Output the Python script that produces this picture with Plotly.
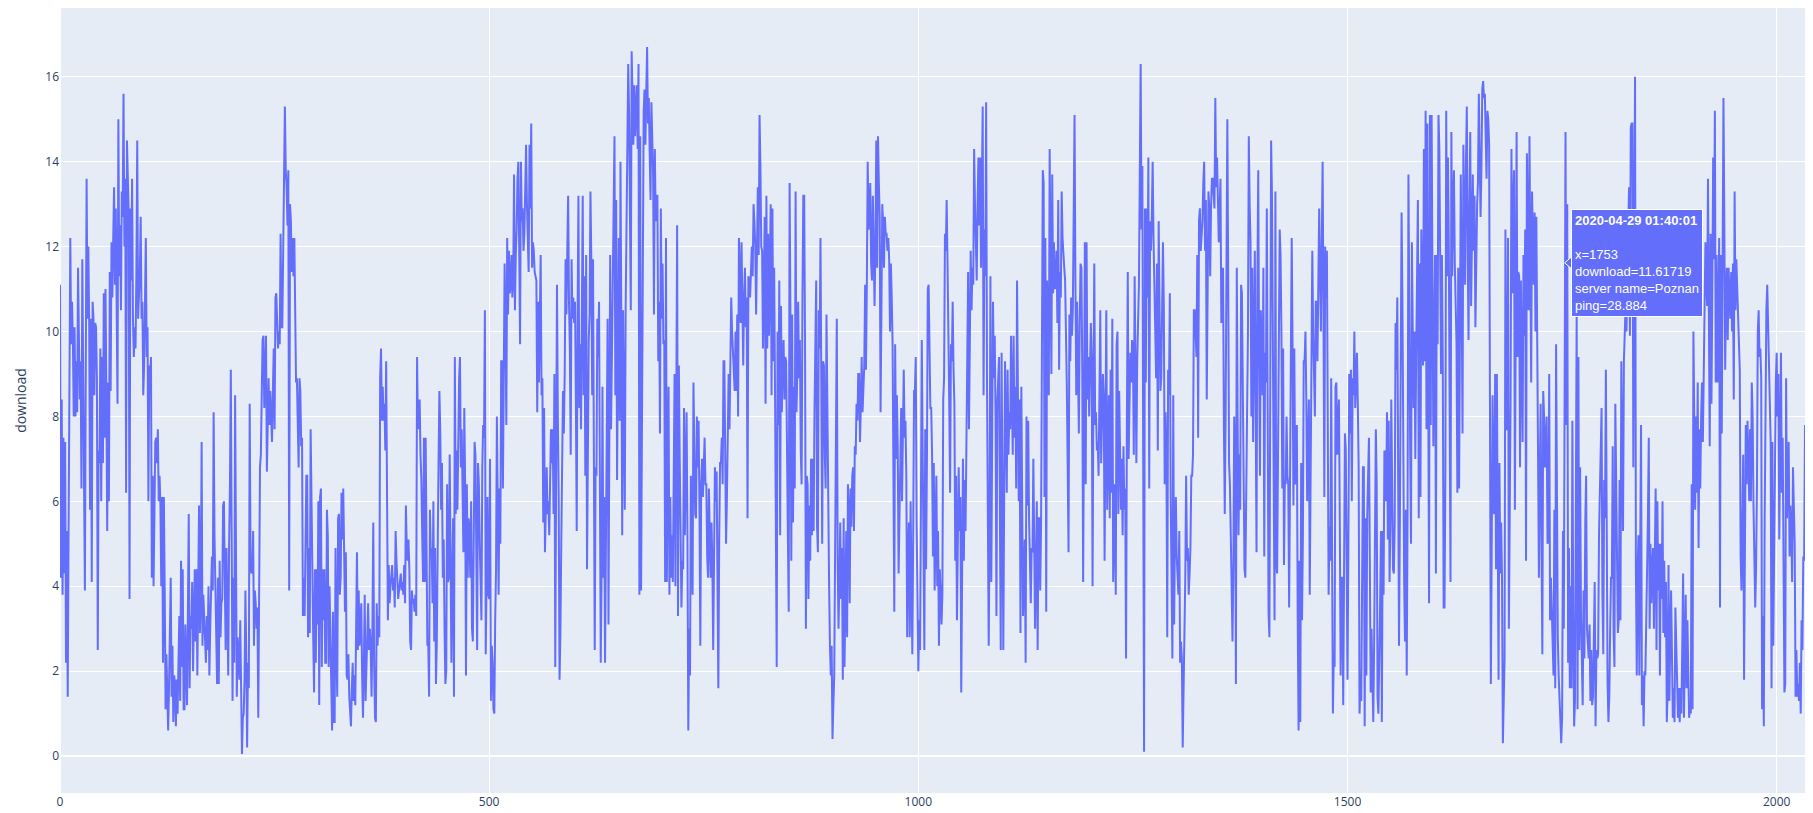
import plotly.graph_objects as go

# download speed per test (index = test number)
part1 = [11.1, 4.2, 8.4, 3.8, 7.5, 4.3, 7.4, 2.2, 5.3, 1.4,
         5.3, 8.4, 12.2, 9.7, 10.7, 9.8, 8.0, 10.1, 8.0, 9.3,
         8.1, 11.5, 9.2, 8.4, 9.3, 6.3, 11.7, 8.2, 6.3, 3.9,
         9.0, 13.6, 10.3, 12.0, 10.2, 5.8, 10.3, 4.1, 10.7, 10.3,
         8.5, 10.2, 10.1, 8.9, 2.5, 7.2, 6.9, 9.6, 6.0, 9.4,
         6.9, 10.9, 7.5, 11.0, 8.6, 5.3, 8.8, 6.0, 11.4, 8.6,
         12.1, 10.8, 12.2, 13.4, 11.1, 12.9, 10.6, 8.3, 15.0, 11.3,
         12.5, 10.5, 13.3, 12.7, 15.6, 12.0, 13.6, 6.2, 14.5, 13.2,
         12.8, 3.7, 12.9, 11.2, 13.6, 10.3, 9.4, 10.1, 9.6, 11.4,
         14.5, 10.3, 10.9, 11.4, 12.7, 10.3, 10.7, 8.5, 9.2, 10.6,
         12.2, 9.4, 10.1, 6.0, 9.2, 8.9, 9.4, 4.2, 6.6, 4.0,
         6.0, 7.4, 7.5, 6.9, 7.7, 6.0, 6.6, 5.9, 4.0, 6.1,
         2.2, 6.1]

part2 = [3.9, 1.1, 2.4, 1.3, 0.6, 1.6, 3.0, 4.2, 1.4, 2.6,
         0.8, 1.9, 1.7, 0.7, 1.8, 1.0, 2.2, 3.3, 1.3, 4.6,
         2.1, 4.4, 1.1, 1.1, 3.1, 2.2, 1.2, 3.4, 5.7, 1.6,
         3.3, 3.0, 4.1, 2.0, 3.5, 4.4, 2.7, 4.4, 1.9, 4.2,
         5.9, 2.9, 3.7, 7.4, 2.6, 3.8, 3.1, 2.6, 2.2, 3.3,
         2.5, 4.0, 1.9, 3.0, 3.9, 4.7, 3.9, 8.1, 5.2, 3.8,
         2.9, 1.7, 4.2, 1.7, 4.6, 2.8, 3.6, 3.7, 5.9, 6.0,
         4.1, 2.5, 4.9, 2.5, 1.9, 5.0, 6.4, 9.1, 4.1, 1.3,
         4.2, 2.2, 8.5, 4.1, 1.4, 2.8, 2.0, 1.8, 3.2, 1.0,
         0.05, 0.9, 1.0, 1.8, 3.9, 2.4, 0.2, 2.2, 1.6, 8.3,
         4.6, 4.3, 4.4, 5.3, 2.6, 3.9, 3.6, 3.0, 3.5, 0.9,
         3.7, 6.8, 7.1, 9.1, 9.8, 9.9, 8.2, 9.0, 9.9, 6.7,
         7.8, 8.9, 7.8, 8.6, 8.0, 7.4, 8.6, 9.6, 7.7, 10.8,
         10.9, 9.9, 9.6, 10.0, 9.7, 12.3, 10.1, 10.1, 11.6, 14.1,
         15.3, 13.8, 13.4, 12.5, 13.8, 3.9, 13.0, 12.6, 11.4, 12.2,
         11.3, 12.2, 10.5, 8.8, 8.9, 7.9, 6.8, 8.9, 8.6, 7.3,
         7.5, 3.3, 4.2, 3.3, 5.0, 6.6, 6.6, 2.8, 4.9, 2.9,
         7.7, 5.5, 4.9, 2.8, 1.5, 4.4, 2.2, 4.4, 3.1, 6.0,
         1.2, 6.1, 6.3, 2.1, 4.4, 3.2, 4.4]

part3 = [2.2, 2.2, 5.8, 5.2, 2.1, 4.0, 3.1,
         2.0, 0.6, 3.4, 0.8, 0.8, 4.9, 2.6,
         1.4, 5.6, 5.7, 3.8, 4.2, 6.2, 5.1,
         6.3, 4.7, 3.4, 4.8, 1.9, 1.8, 2.4,
         1.4, 1.0, 0.7, 1.6, 2.2, 1.3, 1.9,
         1.2, 3.0, 4.8, 2.5, 3.9, 2.6, 3.2,
         3.6, 1.9, 0.9, 2.2, 3.8, 1.3, 2.0,
         2.5, 3.6, 2.5, 3.0, 2.5, 1.4, 3.1,
         5.5, 2.1, 0.9, 0.8, 3.6, 2.6, 3.3,
         2.8, 8.9, 9.6, 7.9, 8.7, 7.9, 8.3,
         7.2, 9.3, 4.5, 3.2, 4.5, 3.6, 4.0,
         4.4, 4.5, 3.9, 4.2, 3.5, 5.3, 4.6,
         4.0, 3.7, 3.9, 4.2, 4.3, 3.9, 4.1,
         3.8, 4.5, 3.6, 5.9, 4.9, 4.6, 5.1,
         4.4, 2.7, 2.5, 3.9, 3.6, 3.7, 3.4,
         3.8, 3.3, 9.4, 7.7, 8.0, 8.4, 7.1,
         6.5, 5.2, 4.1, 7.5, 4.1, 7.5, 5.3,
         2.6, 2.7, 1.4, 5.8, 4.8, 4.9, 3.6,
         6.0, 2.7, 4.9, 1.7, 2.7, 5.5, 6.9,
         8.6, 7.7, 5.8, 6.9, 4.2, 5.1, 3.0,
         1.7, 2.0, 6.4, 4.1, 4.2, 7.1, 4.8,
         2.2, 4.3, 5.6, 1.4, 9.4, 5.7, 7.2,
         5.8, 7.7, 8.9, 9.4, 6.8, 7.7, 6.1,
         4.8, 8.2, 6.4, 1.9, 6.4, 4.2, 5.6,
         5.3, 4.2, 6.0, 3.0, 2.7, 6.0, 7.4,
         7.1, 3.6, 2.5, 6.9, 6.4, 5.0, 4.1,
         3.2, 6.8, 7.8, 7.5, 10.5, 2.4]

part4 = [5.4, 6.1, 3.8, 3.7, 7.0, 1.3, 2.6,
         2.2, 1.1, 1.0, 3.2, 4.4, 8.0, 5.5,
         3.8, 6.3, 5.0, 9.3, 9.3, 6.3, 8.4,
         11.6, 10.2, 7.8, 12.2, 10.4, 11.9, 10.9,
         11.1, 11.8, 10.8, 11.2, 13.7, 10.5, 11.8,
         12.4, 13.6, 14.0, 11.9, 9.7, 14.0, 12.6,
         12.9, 11.9, 12.3, 13.4, 14.4, 13.0, 12.2,
         11.4, 14.4, 12.9, 14.9, 11.5, 12.1, 11.9,
         11.4, 11.3, 11.2, 8.1, 10.7, 8.8, 9.9,
         11.8, 8.5, 8.9, 5.5, 8.2, 4.8, 6.0,
         6.8, 5.7, 6.0, 5.2, 6.4, 7.7, 6.9,
         7.7, 5.7, 9.0, 2.1, 9.0, 11.1, 8.0,
         6.1, 1.8, 2.9, 5.0, 6.8, 8.6, 7.6,
         9.0, 11.7, 10.4, 11.9, 13.2, 10.7, 9.6,
         7.1, 11.7, 10.3, 10.8, 10.2, 10.7, 8.4,
         5.3, 10.4, 13.2, 8.2, 9.7, 7.7, 10.6,
         13.2, 8.5, 11.3, 6.6, 11.8, 4.4, 7.5,
         9.8, 10.4, 13.3, 11.7, 8.5, 11.7, 6.9,
         2.5, 6.8, 6.6, 10.3, 9.4, 10.7, 5.6,
         2.2, 4.3, 8.7, 4.2, 6.1, 2.2, 5.9,
         8.2, 10.3, 3.1, 10.2, 11.8, 7.7, 9.9,
         11.8, 13.9, 14.6, 8.5, 13.1, 6.5, 10.4,
         12.2, 7.9, 14.0, 10.1, 5.2, 10.5, 8.0,
         5.8, 10.5, 13.1, 13.5, 16.3, 15.1, 12.7,
         10.5, 16.6, 15.8, 14.4, 15.8, 14.6, 15.2,
         15.8, 14.3, 16.3, 3.8, 14.6, 3.9, 9.0,
         14.5, 15.2]

part5 = [15.7, 14.4, 15.6, 16.7, 14.9, 15.5, 14.2,
         13.1, 15.4, 14.6, 13.7, 10.4, 14.3, 12.6,
         13.2, 13.2, 9.3, 10.7, 7.6, 12.9, 10.3,
         11.6, 9.7, 9.8, 4.1, 12.2, 4.1, 6.9,
         8.7, 3.8, 6.1, 4.2, 5.2, 4.1, 6.3,
         9.0, 4.0, 9.1, 12.5, 3.3, 9.2, 7.0,
         5.5, 3.5, 4.6, 4.4, 8.2, 5.2, 6.7,
         8.1, 5.2, 0.6, 3.0, 1.9, 6.6, 4.9,
         3.8, 8.8, 7.3, 5.7, 5.6, 8.0, 6.8,
         7.9, 5.8, 2.6, 6.4, 7.0, 6.1, 6.9,
         7.5, 6.4, 6.4, 4.7, 4.2, 6.3, 5.0,
         4.2, 5.5, 4.6, 2.5, 5.8, 6.8, 6.0,
         6.7, 4.1, 1.6, 5.1, 6.9, 6.9, 7.5,
         6.4, 9.3, 9.3, 6.9, 5.0, 6.1, 7.8,
         9.0, 7.7, 9.6, 10.8, 10.0, 9.5, 9.1,
         8.6, 10.0, 8.6, 10.4, 8.0, 12.2, 11.0,
         10.2, 12.1, 10.7, 9.2, 10.8, 11.5, 10.1,
         10.8, 5.6, 11.3, 11.2, 10.8, 11.4, 12.0,
         11.3, 13.0, 12.6, 12.0, 10.4, 12.4, 13.4,
         11.8, 15.1, 13.9, 12.0, 11.9, 9.6, 11.1,
         12.7, 8.3, 13.2, 9.6, 12.3, 9.9, 11.6,
         13.0, 8.5, 12.9, 9.3, 11.5, 8.7, 6.0,
         2.1, 10.0, 7.8, 11.2, 5.2, 10.6, 8.1,
         9.4, 9.8, 8.4, 9.4, 9.3, 6.4, 5.2,
         3.4, 13.5, 10.4, 4.6, 10.4, 5.5, 8.7,
         6.3, 13.3, 8.1, 9.0, 10.7, 8.9, 9.8,
         7.2, 6.4, 10.8, 13.2]

part6 = [13.2, 9.7, 3.0, 6.6, 6.4, 3.7, 5.9,
         4.6, 7.0, 5.2, 7.0, 5.3, 8.1, 9.4,
         11.2, 5.4, 4.8, 10.5, 9.6, 12.2, 8.6,
         5.0, 9.3, 9.2, 7.1, 6.3, 10.4, 7.7,
         6.3, 4.1, 2.6, 1.9, 2.6, 0.4, 1.2,
         1.9, 4.7, 7.1, 10.3, 4.6, 3.0, 4.1,
         5.5, 3.7, 4.9, 1.8, 5.6, 2.1, 3.9,
         5.3, 2.8, 6.4, 5.7, 3.6, 6.3, 5.4,
         6.6, 6.8, 5.3, 7.3, 7.1, 8.3, 7.9,
         9.0, 9.0, 7.4, 8.2, 9.4, 8.1, 8.7,
         9.2, 11.1, 9.1, 11.1, 14.0, 12.4, 12.9,
         13.5, 11.6, 11.2, 13.2, 12.3, 10.6, 12.0,
         14.5, 11.5, 14.6, 13.5, 12.7, 8.1, 10.9,
         13.0, 12.5, 11.5, 12.7, 12.3, 12.3, 11.9,
         12.2, 11.7, 10.0, 11.6, 10.8, 9.7, 6.5,
         3.4, 9.7, 7.0, 8.5, 7.3, 4.3, 5.8,
         6.8, 8.2, 6.0, 8.0, 9.1, 7.5, 7.9,
         6.6, 2.8, 4.8, 5.5, 2.8, 6.0, 4.1,
         2.4, 5.2, 8.6, 8.6, 9.4, 5.5, 3.6,
         2.0, 3.2, 2.5, 5.8, 9.8, 7.3, 4.6,
         2.5, 7.7, 4.4, 6.9, 11.0, 11.1, 9.5,
         8.2, 8.2, 7.1, 4.7, 6.9, 3.9, 5.2,
         6.6, 4.0, 5.3, 2.6, 4.4, 3.8, 3.1,
         3.8, 8.4, 8.9, 12.3, 11.9, 13.1, 11.6,
         10.3, 8.3, 6.2, 9.7, 9.3, 10.7, 9.1,
         8.3, 4.6, 6.6, 3.2, 4.9, 6.8, 5.3,
         6.1, 1.5, 4.7, 7.0, 4.6]

part7 = [6.5, 5.3, 7.7, 10.4, 11.4, 7.7, 9.8,
         11.9, 10.5, 11.5, 11.1, 14.3, 13.0, 12.2,
         11.2, 13.0, 14.1, 12.5, 14.1, 11.5, 13.6,
         15.3, 8.5, 12.4, 11.3, 15.4, 8.8, 5.0,
         2.6, 5.5, 11.3, 4.1, 8.6, 10.7, 8.9,
         9.9, 7.9, 3.3, 8.3, 9.1, 9.4, 5.8,
         2.5, 9.5, 6.6, 2.5, 6.2, 9.3, 7.7,
         6.2, 9.1, 7.1, 8.1, 7.7, 9.9, 8.4,
         7.1, 9.9, 7.5, 8.7, 6.3, 11.2, 8.6,
         6.0, 8.4, 2.9, 8.7, 5.2, 3.3, 4.3,
         5.1, 2.2, 8.0, 5.9, 7.9, 5.6, 4.6,
         3.6, 4.9, 4.8, 7.0, 5.2, 3.0, 4.4,
         6.0, 2.5, 5.6, 5.6, 3.9, 5.5, 9.6,
         13.8, 13.5, 6.1, 12.2, 3.4, 11.2, 10.2,
         8.5, 14.3, 11.5, 9.0, 13.7, 10.9, 12.1,
         11.0, 11.1, 11.9, 10.2, 13.1, 9.1, 11.4,
         10.8, 13.3, 12.2, 11.7, 11.5, 11.2, 10.1,
         8.7, 6.8, 4.8, 10.4, 9.3, 10.8, 9.9,
         10.5, 14.0, 15.1, 11.2, 8.5, 10.7, 9.4,
         7.6, 10.2, 11.6, 11.5, 9.0, 4.1, 8.3,
         12.1, 6.4, 12.1, 8.4, 9.4, 8.0, 9.0,
         10.2, 9.3, 4.0, 8.8, 11.6, 7.8, 8.1,
         7.2, 7.4, 6.6, 9.3, 10.5, 6.9, 8.0,
         9.0, 8.5, 4.6, 7.8, 10.5, 5.8, 7.2,
         8.5, 5.6, 9.1, 6.2, 10.3, 4.1, 5.3,
         6.4, 3.8, 9.7, 10.0, 5.7, 8.6, 7.0,
         5.8, 7.0, 5.2, 7.3]

part8 = [5.8, 6.3, 2.3, 8.0, 11.4, 7.0, 8.2,
         9.5, 8.8, 9.8, 9.6, 7.1, 11.3, 9.0,
         6.9, 9.3, 10.6, 11.1, 13.7, 16.3, 12.4,
         13.9, 6.9, 0.1, 12.9, 8.8, 12.9, 10.8,
         14.1, 6.3, 12.6, 11.9, 12.7, 14.0, 12.2,
         11.3, 10.1, 8.9, 11.6, 7.2, 12.6, 10.4,
         8.6, 8.9, 10.2, 12.1, 10.6, 6.4, 8.1,
         7.2, 2.8, 9.1, 8.5, 10.9, 6.1, 4.5,
         2.3, 8.5, 3.1, 5.3, 6.1, 4.7, 4.0,
         3.8, 5.3, 2.2, 2.7, 2.3, 0.2, 1.5,
         2.4, 4.2, 6.6, 4.6, 4.9, 3.8, 4.3,
         4.9, 6.6, 6.6, 7.1, 10.5, 10.5, 9.9,
         9.4, 11.8, 7.5, 12.6, 12.9, 11.9, 12.3,
         12.6, 13.5, 14.0, 11.9, 13.1, 8.4, 10.9,
         13.3, 12.9, 11.3, 12.9, 13.6, 13.6, 13.0,
         12.9, 15.5, 13.4, 14.1, 12.6, 12.1, 12.9,
         13.6, 10.2, 10.9, 11.5, 7.8, 5.7, 8.0,
         10.5, 15.0, 11.3, 6.9, 6.4, 5.5, 4.0,
         2.7, 4.4, 8.0, 7.1, 1.7, 11.5, 7.9,
         5.2, 7.1, 5.8, 11.1, 10.9, 8.7, 6.5,
         4.4, 4.2, 7.5, 8.1, 9.9, 14.6, 13.0,
         12.1, 8.0, 11.5, 7.4, 9.3, 11.9, 8.3,
         4.8, 11.1, 13.8, 9.3, 6.6, 10.5, 9.6,
         8.5, 11.5, 4.7, 9.5, 8.8, 12.9, 7.6,
         3.4, 2.8, 10.2, 14.5, 13.2, 9.3, 6.1,
         3.2, 13.3, 4.5, 4.3, 7.7, 11.5, 12.4,
         11.8, 10.0, 6.3, 9.6, 4.5]

part9 = [6.5, 6.4, 8.0, 6.6, 6.4, 3.5, 6.2,
         9.2, 12.2, 9.6, 5.9, 9.6, 6.4, 7.0,
         7.8, 3.2, 0.6, 4.6, 0.8, 6.9, 3.2,
         5.1, 9.3, 9.3, 10.0, 8.4, 6.0, 7.4,
         8.4, 3.8, 6.6, 10.0, 11.9, 10.0, 9.1,
         8.0, 10.7, 10.7, 9.3, 10.7, 12.9, 11.4,
         10.0, 12.0, 14.0, 10.5, 6.1, 12.0, 10.8,
         11.9, 8.8, 3.8, 5.4, 4.6, 8.9, 4.8,
         1.0, 2.4, 2.1, 8.7, 8.8, 7.1, 7.9,
         8.4, 5.6, 1.9, 4.2, 4.2, 1.2, 4.4,
         7.6, 7.2, 3.9, 1.8, 4.9, 9.0, 7.6,
         9.1, 6.0, 8.9, 8.5, 10.0, 8.2, 9.0,
         9.5, 8.3, 6.8, 1.0, 1.7, 1.3, 3.9,
         6.8, 6.8, 0.7, 5.6, 1.9, 5.7, 6.6,
         7.5, 4.7, 1.5, 3.0, 1.7, 0.8, 2.6,
         4.5, 7.7, 6.4, 1.4, 1.0, 2.0, 3.6,
         5.3, 0.8, 5.3, 3.8, 7.2, 7.1, 6.0,
         8.1, 5.1, 7.9, 4.1, 5.5, 8.4, 6.3,
         4.4, 4.3, 5.5, 10.2, 9.1, 10.8, 6.9,
         2.6, 5.5, 8.3, 12.8, 10.7, 6.5, 4.1,
         2.7, 5.8, 1.9, 5.8, 13.7, 9.2, 7.3,
         5.0, 12.1, 10.1, 8.2, 10.0, 7.0, 9.4,
         12.6, 13.1, 5.6, 11.6, 6.1, 12.4, 10.3,
         9.2, 14.3, 9.3, 15.2, 7.7, 14.9, 10.1,
         3.6, 15.1, 7.8, 15.1, 9.1, 7.3, 9.9,
         11.8, 4.3, 11.8, 9.7, 15.1, 14.3, 11.6,
         9.0, 11.8, 9.3, 3.5]

part10 = [3.5, 6.6, 15.2, 11.3, 14.1, 12.1, 8.0,
          4.1, 14.7, 11.3, 12.9, 13.8, 11.6, 10.6,
          9.7, 6.2, 11.5, 6.3, 9.1, 13.7, 10.9,
          7.6, 14.4, 12.7, 11.1, 14.0, 15.3, 12.0,
          9.8, 12.8, 14.7, 10.6, 12.7, 13.7, 11.9,
          13.2, 10.1, 12.4, 13.0, 13.5, 15.6, 14.1,
          12.7, 13.8, 15.7, 15.9, 15.5, 15.6, 14.8,
          13.6, 15.2, 15.0, 14.4, 6.9, 1.7, 4.9,
          8.5, 5.8, 5.7, 9.0, 4.4, 9.0, 5.2,
          1.8, 6.9, 4.3, 5.5, 4.2, 0.3, 1.6,
          2.3, 12.4, 7.7, 7.7, 12.2, 3.0, 6.1,
          8.4, 14.3, 10.9, 12.9, 13.8, 5.8, 10.2,
          14.7, 9.4, 11.4, 11.3, 6.8, 11.2, 9.1,
          7.4, 11.8, 9.9, 12.4, 4.6, 14.2, 11.7,
          10.5, 14.6, 10.4, 8.8, 13.3, 12.0, 11.1,
          12.8, 10.0, 12.7, 10.0, 8.8, 4.2, 6.6,
          8.3, 5.0, 2.4, 8.6, 8.0, 6.8, 7.4,
          8.0, 5.0, 5.1, 9.0, 3.2, 4.2, 3.5,
          2.7, 1.9, 5.8, 1.6, 9.7, 3.9, 2.8,
          1.9, 1.4, 0.6, 0.3, 0.9, 5.3, 3.0,
          11.61719, 14.7, 7.8, 13.0, 2.2, 4.9, 1.6,
          4.0, 1.6, 7.9, 3.3, 0.7, 1.3, 5.2,
          10.4, 1.1, 9.4, 2.5, 6.8, 3.4, 2.1,
          1.2, 3.9, 2.3, 5.5, 6.6, 3.0, 2.7,
          2.3, 3.1, 1.3, 2.5, 1.2, 1.4, 2.9,
          4.1, 0.7, 2.5, 2.3, 2.4, 5.2, 6.3,
          7.5, 8.2, 3.8, 2.4, 6.5]

part11 = [5.6, 9.1, 5.1, 1.7, 0.8, 1.4, 3.0,
          4.2, 4.2, 7.3, 2.9, 2.1, 8.3, 6.4,
          5.2, 2.9, 3.2, 6.5, 3.2, 9.3, 7.0,
          5.3, 9.3, 10.2, 10.6, 10.0, 11.9, 12.4,
          13.4, 9.9, 14.8, 14.9, 14.9, 6.8, 12.1,
          16.0, 4.4, 1.9, 4.4, 5.2, 1.9, 4.0,
          7.8, 1.2, 1.9, 0.7, 2.0, 1.9, 3.1,
          3.9, 5.6, 7.5, 3.0, 5.0, 3.6, 4.4,
          4.9, 3.0, 4.7, 6.3, 2.5, 6.0, 3.9,
          5.0, 1.9, 5.0, 3.7, 6.0, 2.9, 4.6,
          2.8, 4.1, 0.8, 1.6, 4.5, 1.3, 2.7,
          3.9, 2.4, 0.9, 1.6, 0.8, 3.5, 2.3,
          1.9, 0.9, 1.6, 0.8, 1.6, 1.0, 2.6,
          4.3, 0.9, 2.4, 3.8, 1.6, 3.2, 2.0,
          0.9, 1.1, 1.0, 6.4, 1.1, 10.0, 7.9,
          5.8, 8.0, 6.2, 8.8, 4.9, 7.7, 6.3,
          8.0, 8.8, 7.4, 9.5, 11.0, 12.1, 11.2,
          10.6, 13.6, 10.6, 7.3, 12.3, 8.3, 10.9,
          14.1, 11.7, 15.2, 8.8, 11.8, 8.8, 10.1,
          12.2, 3.5, 11.8, 7.6, 10.8, 15.5, 12.6,
          9.1, 10.9, 11.5, 9.8, 11.5, 10.8, 10.3,
          11.4, 10.0, 11.6, 8.4, 13.3, 10.5, 11.7,
          11.0, 10.0, 9.9, 9.1, 4.7, 3.9, 5.5,
          7.1, 1.8, 7.1, 7.8, 6.4, 7.9, 7.0,
          6.0, 7.7, 6.0, 8.8, 8.0, 5.9, 4.6,
          3.5, 4.4, 6.3, 10.0, 10.5, 9.4, 9.6,
          8.9, 1.1, 3.3, 0.7]

part12 = [5.6, 8.5, 10.5, 11.1, 10.2, 9.7, 8.6,
          7.4, 1.6, 7.4, 2.6, 5.1, 8.3, 8.8,
          9.5, 8.0, 9.0, 5.1, 7.3, 9.5, 6.2,
          7.5, 4.6, 1.5, 1.7, 8.9, 5.6, 6.6,
          7.4, 4.7, 5.9, 5.3, 4.1, 6.8, 5.7,
          5.0, 1.4, 2.5, 1.4, 1.7, 1.3, 2.2,
          1.0, 3.2, 2.5, 4.7, 4.6, 7.8]

download = (part1 + part2 + part3 + part4 + part5 + part6 + part7 + part8
            + part9 + part10 + part11 + part12)
index = list(range(len(download)))

# the hovered point shown in the screenshot
hover_time = "2020-04-29 01:40:01"
hover_x = 1753
hover_download = 11.61719
hover_server = "Poznan"
hover_ping = 28.884

fig = go.Figure()

fig.add_trace(go.Scatter(
    x=index,
    y=download,
    mode="lines",
    line=dict(color="#636efa", width=2),
    name="download",
    showlegend=False
))

hover_text = (f"<b>{hover_time}</b><br><br>x={hover_x}<br>download={hover_download}"
              f"<br>server name={hover_server}<br>ping={hover_ping}")

fig.add_annotation(
    x=hover_x, y=hover_download,
    text=hover_text,
    showarrow=False,
    xanchor="left", yanchor="middle",
    xshift=6,
    align="left",
    font=dict(family="Arial", size=13, color="white"),
    bgcolor="#636efa",
    bordercolor="white",
    borderwidth=1,
    borderpad=3
)

# little pointer of the hover label
fig.add_shape(
    type="path",
    xref="x", yref="y",
    xsizemode="pixel", ysizemode="pixel",
    xanchor=hover_x, yanchor=hover_download,
    path="M0,0 L7,6 L7,-6 Z",
    fillcolor="#636efa",
    line=dict(color="white", width=1)
)

# the page body keeps its 8px browser margin, so the figure is 16px smaller
fig.update_layout(
    width=1797,
    height=805,
    margin=dict(l=52, r=0, t=0, b=20),
    yaxis_title="download",
    xaxis=dict(dtick=500, range=[0, len(download) - 1], automargin=False),
    yaxis=dict(dtick=2, range=[-0.87, 17.62], automargin=False)
)

fig.write_html("out.html", config={"displayModeBar": False})
